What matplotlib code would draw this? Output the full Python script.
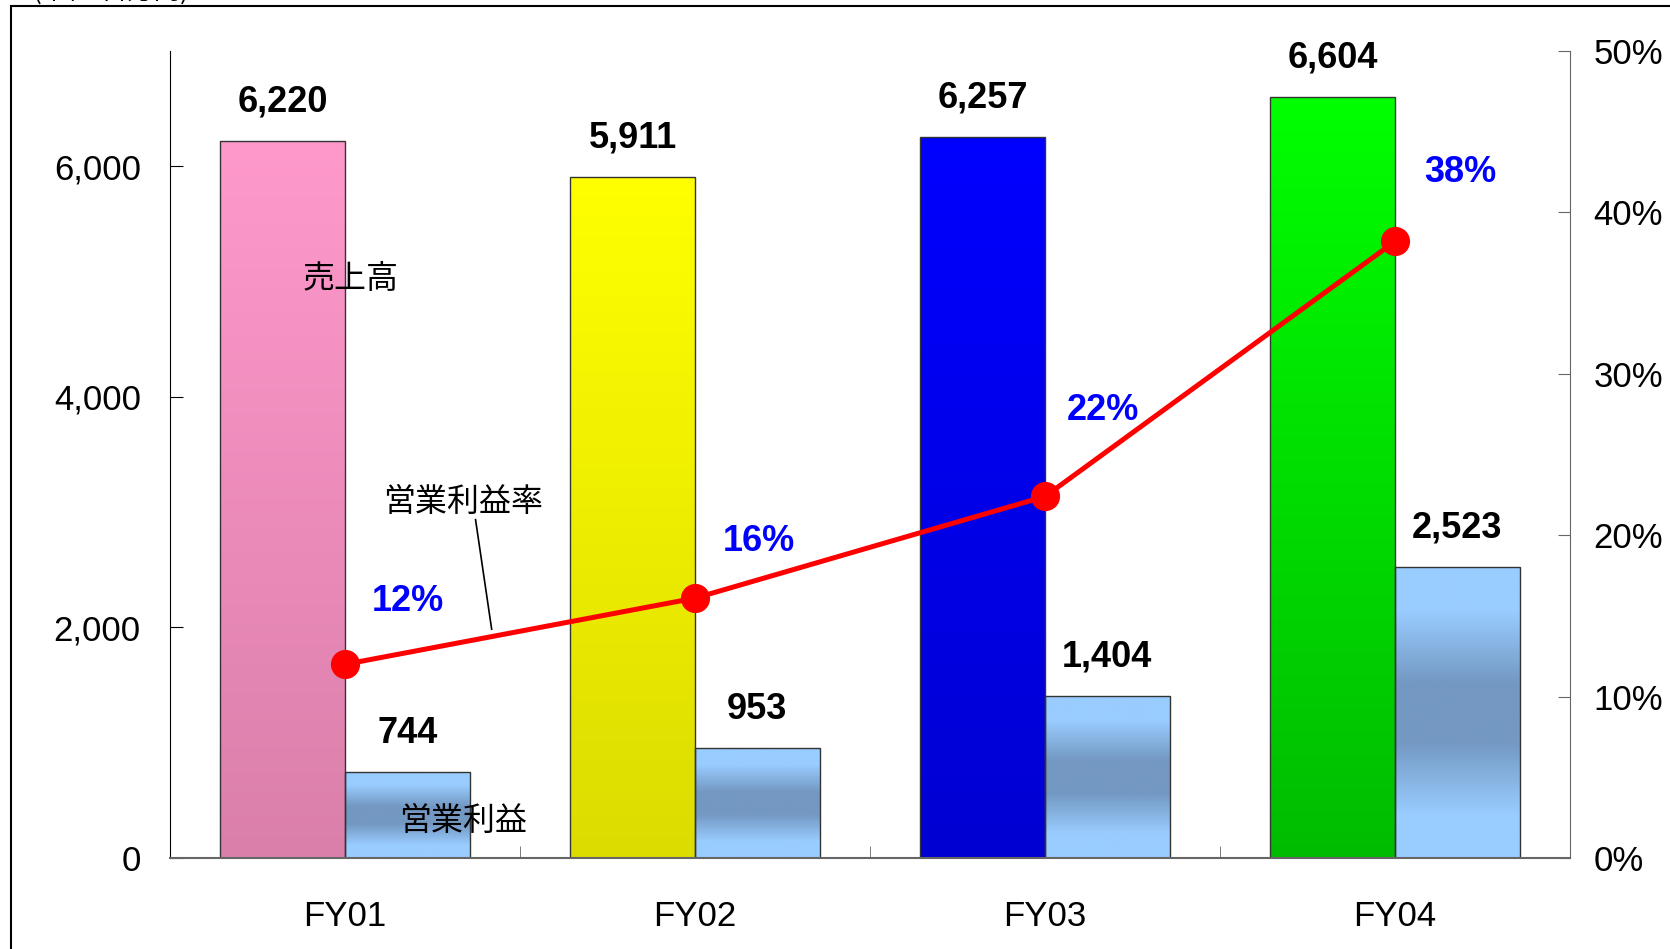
import numpy as np
import matplotlib
matplotlib.use('Agg')
import matplotlib.pyplot as plt
from matplotlib.patches import Rectangle
from matplotlib.ticker import FuncFormatter

# data
years = ['FY01', 'FY02', 'FY03', 'FY04']
sales = [6220, 5911, 6257, 6604]            # 売上高 (百万円)
op_profit = [744, 953, 1404, 2523]          # 営業利益 (百万円)
op_margin = [12.0, 16.1, 22.4, 38.2]        # 営業利益率 (%)
margin_labels = ['12%', '16%', '22%', '38%']

# gradient colours (top, bottom) for the sales bars
sales_colors = [('#FF99CC', '#DA7FAA'),
                ('#FFFF00', '#DCDC00'),
                ('#0000FF', '#0000D2'),
                ('#00FF00', '#00BC00')]
profit_colors = ('#99CCFF', '#7398C2')

latin = ['Liberation Sans', 'DejaVu Sans']
cjk = ['Noto Sans CJK JP', 'DejaVu Sans']
plt.rcParams['font.family'] = latin


def hex2rgb(h):
    return np.array(matplotlib.colors.to_rgb(h))


def gradient_fill(ax, bar, top, bottom, mid=None):
    x, y = bar.get_xy()
    w, h = bar.get_width(), bar.get_height()
    t = np.linspace(0, 1, 256)[:, None]
    if mid is None:
        col = hex2rgb(top) * (1 - t) + hex2rgb(bottom) * t
    else:
        # light at both edges, darker band in the middle
        s = np.interp(t, [0, 0.15, 0.4, 0.6, 0.85, 1], [0, 0, 1, 1, 0, 0])
        col = hex2rgb(top) * (1 - s) + hex2rgb(mid) * s
    img = col[:, None, :]
    im = ax.imshow(img, extent=[x, x + w, y, y + h], origin='upper',
                   aspect='auto', interpolation='bilinear', zorder=bar.get_zorder())
    im.set_clip_path(bar)
    bar.set_facecolor('none')
    bar.set_zorder(bar.get_zorder() + 0.1)


fig = plt.figure(figsize=(16.7, 9.49), dpi=100)
ax = fig.add_axes([170 / 1670, 91 / 949, 1400 / 1670, 807 / 949])
ax2 = ax.twinx()

xpos = np.arange(len(years))
w = 0.356

bars_s = ax.bar(xpos - w / 2, sales, w, edgecolor='#333333', linewidth=1, zorder=2)
bars_p = ax.bar(xpos + w / 2, op_profit, w, edgecolor='#333333', linewidth=1, zorder=2)
for b, (c1, c2) in zip(bars_s, sales_colors):
    gradient_fill(ax, b, c1, c2)
for b in bars_p:
    gradient_fill(ax, b, profit_colors[0], None, mid=profit_colors[1])

for b, v in zip(list(bars_s) + list(bars_p), sales + op_profit):
    ax.annotate(f'{v:,}', (b.get_x() + b.get_width() / 2, v), xytext=(0, 28),
                textcoords='offset points', ha='center', va='center',
                fontsize=26, fontweight='bold', color='black', zorder=5)

ax.set_xlim(-0.5, 3.5)
ax.set_ylim(0, 7000)
ax.set_yticks([0, 2000, 4000, 6000])
ax.yaxis.set_major_formatter(FuncFormatter(lambda v, p: f'{int(v):,}'))
ax.set_xticks(xpos)
ax.set_xticklabels(years)
ax.set_xticks([0.5, 1.5, 2.5], minor=True)
ax.tick_params(axis='x', which='major', length=0, pad=30, labelsize=25)
ax.tick_params(axis='x', which='minor', direction='in', length=9, color='#666666')
ax.tick_params(axis='y', direction='in', length=9, pad=21, labelsize=25)

for side in ['top', 'right']:
    ax.spines[side].set_visible(False)
ax.spines['left'].set_color('black')
ax.spines['bottom'].set_color('#666666')
ax.spines['bottom'].set_linewidth(1.5)

# operating margin line
ax2.plot(xpos, op_margin, color='#FF0000', linewidth=3.6, marker='o',
         markersize=20, zorder=4)
ax2.set_ylim(0, 50)
ax2.set_yticks([0, 10, 20, 30, 40, 50])
ax2.yaxis.set_major_formatter(FuncFormatter(lambda v, p: f'{int(v)}%'))
ax2.tick_params(axis='y', direction='in', length=9, pad=17, labelsize=25, color='#666666')
for side in ['top', 'left', 'bottom']:
    ax2.spines[side].set_visible(False)
ax2.spines['right'].set_color('#666666')

margin_offsets = [(45, 45), (46, 41), (42, 62), (47, 50)]
for xv, yv, lab, off in zip(xpos, op_margin, margin_labels, margin_offsets):
    ax2.annotate(lab, (xv, yv), xytext=off, textcoords='offset points',
                 ha='center', va='center', fontsize=26, fontweight='bold',
                 color='#0000FF', zorder=6)

# series labels
ax.text(0.016, 5024, '売上高', fontsize=23, family=cjk, ha='center', va='center', zorder=6)
ax.text(0.336, 3091, '営業利益率', fontsize=23, family=cjk, ha='center', va='center', zorder=6)
ax.plot([0.373, 0.419], [2935, 1985], color='black', linewidth=1.2, zorder=6)
ax.text(0.336, 325, '営業利益', fontsize=23, family=cjk, ha='center', va='center', zorder=6)

# outer frame and unit caption (partly cut off at the top, as in the original)
fig.add_artist(Rectangle((11 / 1670, -0.1), 1.2, 1.1 - 6 / 949, fill=False,
                         edgecolor='black', linewidth=1.5, transform=fig.transFigure))
fig.text(33 / 1670, 1 - 5 / 949, '(単位:百万円)', fontsize=19, family=cjk,
         ha='left', va='bottom')

fig.savefig('out.png', dpi=100)
